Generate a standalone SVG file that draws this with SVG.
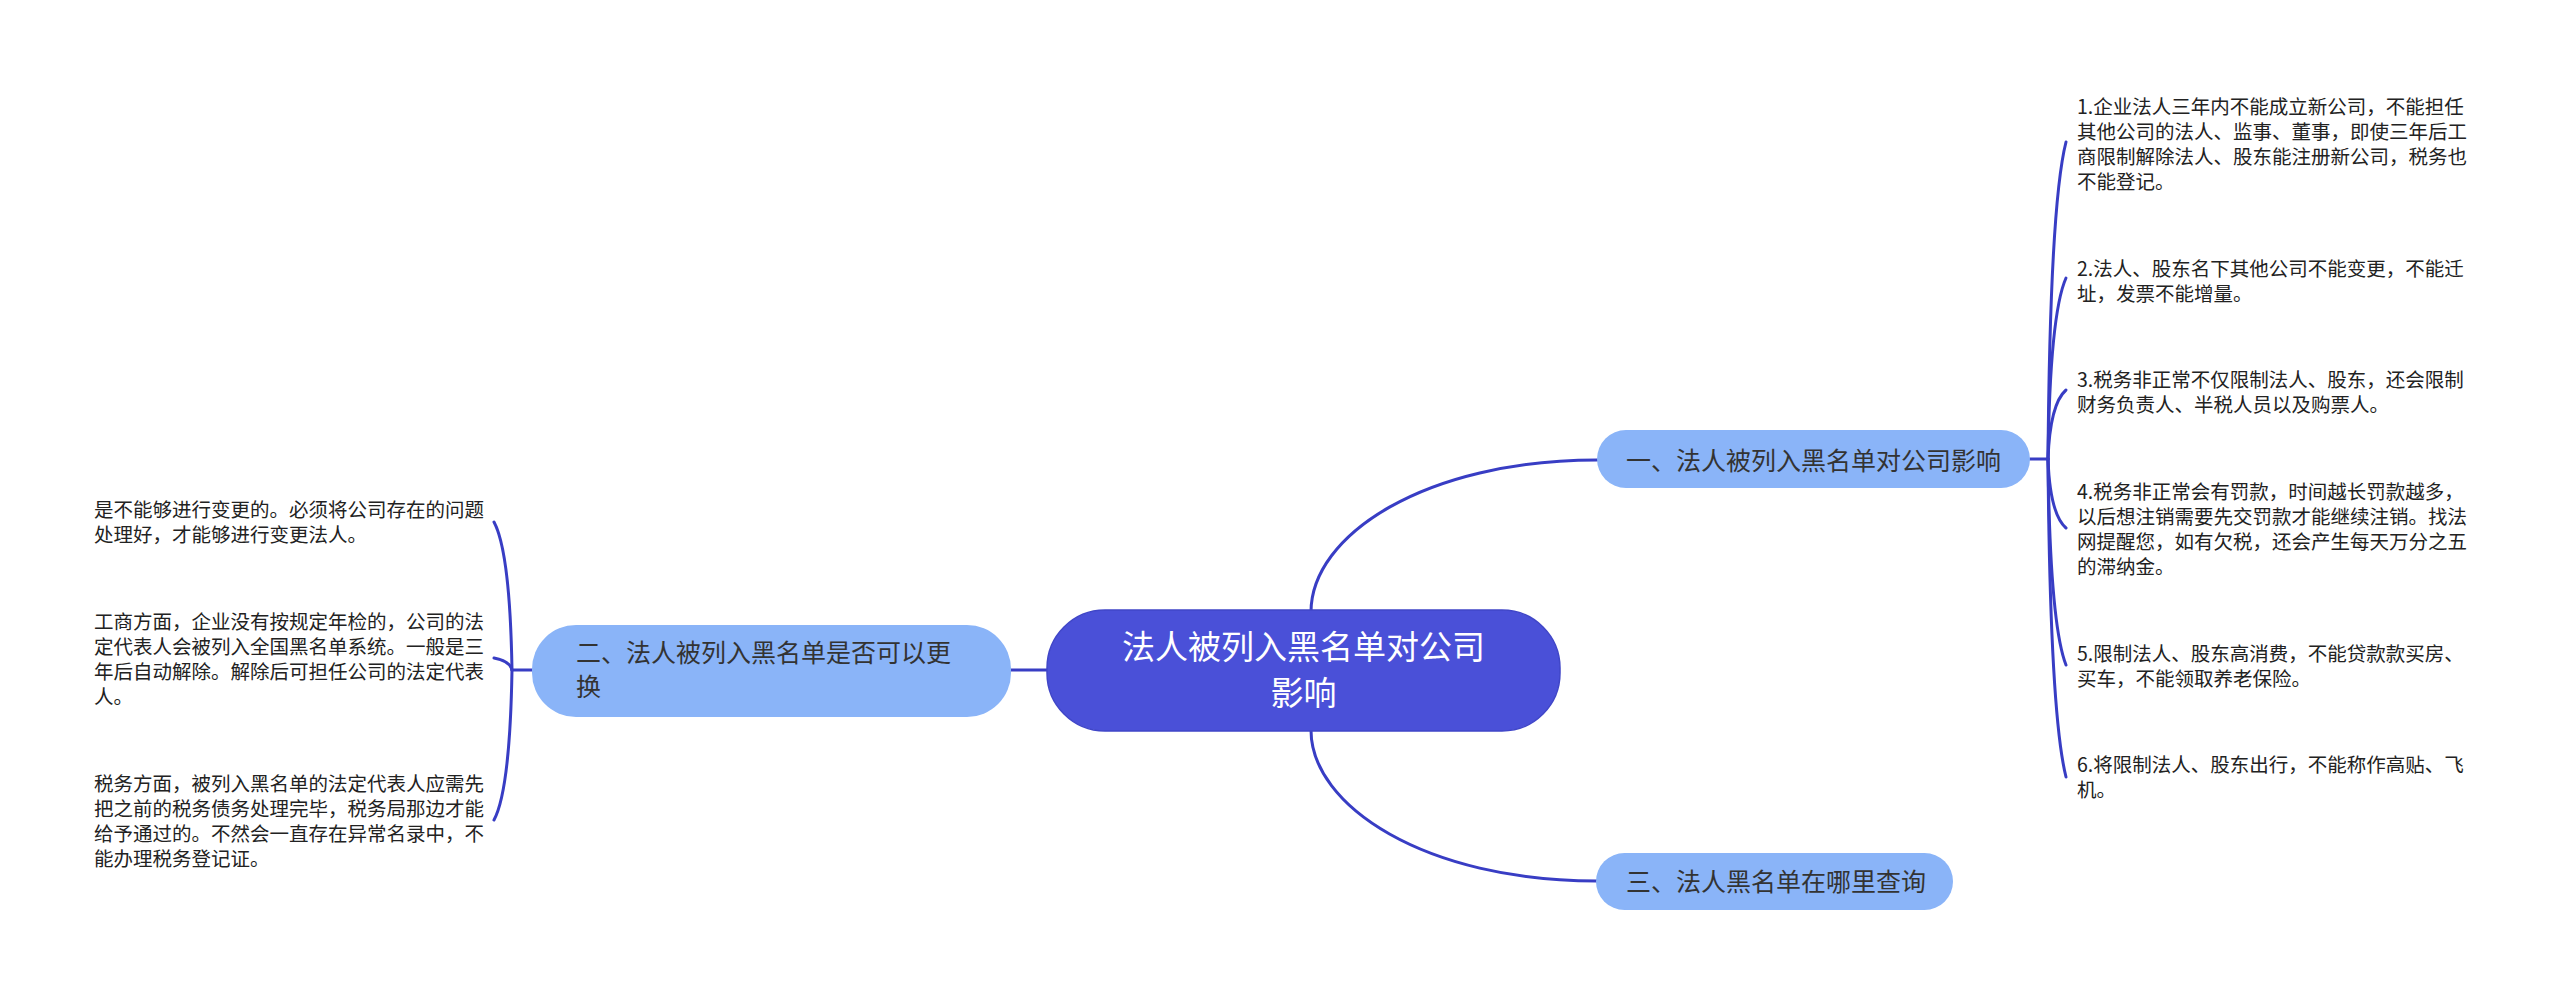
<svg xmlns="http://www.w3.org/2000/svg" width="2560" height="995" viewBox="0 0 2560 995">
<style>
.bg{fill:#ffffff}
.link{fill:none;stroke:#383dc4;stroke-width:3;stroke-linecap:round}
.root{fill:#4a50d8;stroke:#4046c8;stroke-width:1.5}
.main{fill:#8ab4f8}
.rt{font-family:"Noto Sans CJK SC","Noto Sans",sans-serif;font-size:33px;fill:#ffffff;text-anchor:middle}
.mt{font-family:"Noto Sans CJK SC","Noto Sans",sans-serif;font-size:25px;fill:#333333}
.ct{font-family:"Noto Sans CJK SC","Noto Sans",sans-serif;font-size:19.5px;fill:#222222}
</style>
<rect class="bg" x="0" y="0" width="2560" height="995"/>
<g id="connectors">
<path class="link" d="M1311,612 C1311,535 1425,460 1597,460"/>
<path class="link" d="M1311,730 C1311,806 1425,881 1597,881"/>
<path class="link" d="M1011,670 L1048,670"/>
<path class="link" d="M2030,459 L2048,459"/>
<path class="link" d="M2048,459 Q2050,205 2066,142"/>
<path class="link" d="M2048,459 Q2050,314 2066,278"/>
<path class="link" d="M2048,459 Q2050,404 2066,390"/>
<path class="link" d="M2048,459 Q2050,514 2066,528"/>
<path class="link" d="M2048,459 Q2050,624 2066,665"/>
<path class="link" d="M2048,459 Q2050,713 2066,777"/>
<path class="link" d="M532,670 L512,670"/>
<path class="link" d="M512,670 Q510,552 494,522"/>
<path class="link" d="M512,670 Q510,661 494,658"/>
<path class="link" d="M512,670 Q510,790 494,820"/>
</g>
<g id="root">
<rect class="root" x="1047" y="610" width="513" height="121" rx="58" ry="58"/>
<text class="rt" x="1303.5" y="659">法人被列入黑名单对公司</text>
<text class="rt" x="1303.5" y="705">影响</text>
</g>
<g id="node1">
<rect class="main" x="1597" y="430" width="433" height="58" rx="29" ry="29"/>
<text class="mt" x="1626" y="470">一、法人被列入黑名单对公司影响</text>
</g>
<g id="node2">
<rect class="main" x="532" y="625" width="479" height="92" rx="44" ry="44"/>
<text class="mt" x="576" y="662">二、法人被列入黑名单是否可以更</text>
<text class="mt" x="576" y="696">换</text>
</g>
<g id="node3">
<rect class="main" x="1596" y="853" width="357" height="57" rx="28.5" ry="28.5"/>
<text class="mt" x="1626" y="891">三、法人黑名单在哪里查询</text>
</g>
<g id="c1">
<text class="ct" x="2077" y="114">1.企业法人三年内不能成立新公司，不能担任</text>
<text class="ct" x="2077" y="139">其他公司的法人、监事、董事，即使三年后工</text>
<text class="ct" x="2077" y="164">商限制解除法人、股东能注册新公司，税务也</text>
<text class="ct" x="2077" y="189">不能登记。</text>
</g>
<g id="c2">
<text class="ct" x="2077" y="276">2.法人、股东名下其他公司不能变更，不能迁</text>
<text class="ct" x="2077" y="301">址，发票不能增量。</text>
</g>
<g id="c3">
<text class="ct" x="2077" y="387">3.税务非正常不仅限制法人、股东，还会限制</text>
<text class="ct" x="2077" y="412">财务负责人、半税人员以及购票人。</text>
</g>
<g id="c4">
<text class="ct" x="2077" y="499">4.税务非正常会有罚款，时间越长罚款越多，</text>
<text class="ct" x="2077" y="524">以后想注销需要先交罚款才能继续注销。找法</text>
<text class="ct" x="2077" y="549">网提醒您，如有欠税，还会产生每天万分之五</text>
<text class="ct" x="2077" y="574">的滞纳金。</text>
</g>
<g id="c5">
<text class="ct" x="2077" y="661">5.限制法人、股东高消费，不能贷款款买房、</text>
<text class="ct" x="2077" y="686">买车，不能领取养老保险。</text>
</g>
<g id="c6">
<text class="ct" x="2077" y="772">6.将限制法人、股东出行，不能称作高贴、飞</text>
<text class="ct" x="2077" y="797">机。</text>
</g>
<g id="l1">
<text class="ct" x="94" y="517">是不能够进行变更的。必须将公司存在的问题</text>
<text class="ct" x="94" y="542">处理好，才能够进行变更法人。</text>
</g>
<g id="l2">
<text class="ct" x="94" y="629">工商方面，企业没有按规定年检的，公司的法</text>
<text class="ct" x="94" y="654">定代表人会被列入全国黑名单系统。一般是三</text>
<text class="ct" x="94" y="679">年后自动解除。解除后可担任公司的法定代表</text>
<text class="ct" x="94" y="704">人。</text>
</g>
<g id="l3">
<text class="ct" x="94" y="791">税务方面，被列入黑名单的法定代表人应需先</text>
<text class="ct" x="94" y="816">把之前的税务债务处理完毕，税务局那边才能</text>
<text class="ct" x="94" y="841">给予通过的。不然会一直存在异常名录中，不</text>
<text class="ct" x="94" y="866">能办理税务登记证。</text>
</g>
</svg>
